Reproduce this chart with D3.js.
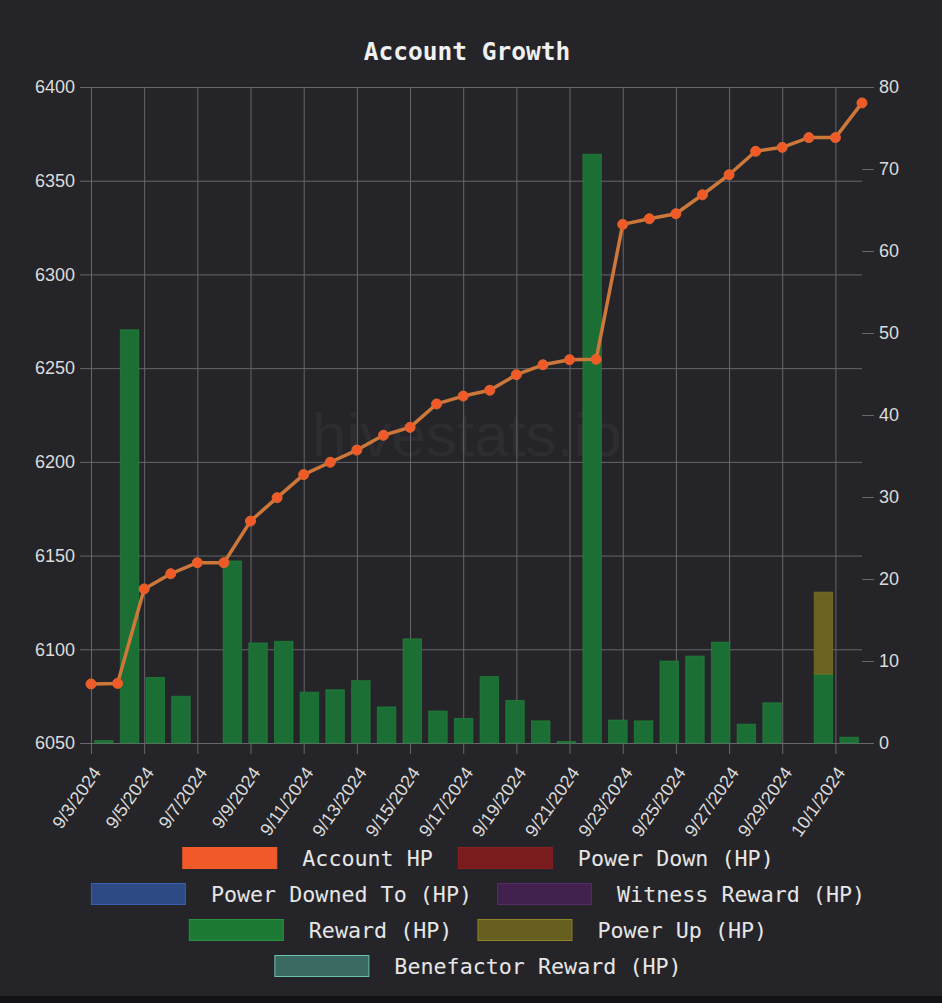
<!DOCTYPE html>
<html>
<head>
<meta charset="utf-8">
<script src="https://cdn.jsdelivr.net/npm/d3@7"></script>
<style>
  html, body { margin: 0; padding: 0; background: #252529; }
  svg { display: block; }
</style>
</head>
<body>
<svg id="chart" width="942" height="1003"></svg>
<script>
// ---------- DATA ----------
const dates = ["9/3/2024","9/4/2024","9/5/2024","9/6/2024","9/7/2024","9/8/2024","9/9/2024","9/10/2024",
  "9/11/2024","9/12/2024","9/13/2024","9/14/2024","9/15/2024","9/16/2024","9/17/2024","9/18/2024",
  "9/19/2024","9/20/2024","9/21/2024","9/22/2024","9/23/2024","9/24/2024","9/25/2024","9/26/2024",
  "9/27/2024","9/28/2024","9/29/2024","9/30/2024","10/1/2024","10/2/2024"];
const accountHP = [6081.5, 6081.8, 6132.2, 6140.3, 6146.2, 6146.2, 6168.4, 6180.9, 6193.2, 6199.8,
  6206.3, 6214.2, 6218.4, 6230.9, 6235.1, 6238.2, 6246.5, 6251.8, 6254.5, 6254.7,
  6326.7, 6329.7, 6332.4, 6342.5, 6353.2, 6365.7, 6367.8, 6373.0, 6373.0, 6391.5];
const powerDown      = new Array(30).fill(0);
const powerDownedTo  = new Array(30).fill(0);
const witnessReward  = new Array(30).fill(0);
const reward = [0.3, 50.4, 8.0, 5.7, 0, 22.2, 12.2, 12.4, 6.2, 6.5, 7.6, 4.4, 12.7, 3.9, 3.0, 8.1,
  5.2, 2.7, 0.2, 71.8, 2.8, 2.7, 10.0, 10.6, 12.3, 2.3, 4.9, 0, 8.4, 0.7];
const powerUp = [0,0,0,0,0,0,0,0,0,0,0,0,0,0,0,0,0,0,0,0,0,0,0,0,0,0,0,0,10.0,0];
const benefactorReward = new Array(30).fill(0);
const leftTicks = [6050, 6100, 6150, 6200, 6250, 6300, 6350, 6400];
const rightTicks = [0, 10, 20, 30, 40, 50, 60, 70, 80];
const xTickLabels = dates.filter((d, i) => i % 2 === 0);

const legendNames = ["Account HP","Power Down (HP)","Power Downed To (HP)","Witness Reward (HP)",
  "Reward (HP)","Power Up (HP)","Benefactor Reward (HP)"];
const legendFill = ["#f25a29","#7a1c1e","#2d4a85","#43214e","#1d7a35","#655e1f","#3a6a61"];
const legendStroke = ["#f25a29","#8a2022","#3a60b5","#582a66","#2a9040","#8f8424","#6cc0b0"];

// ---------- LAYOUT ----------
const svg = d3.select("#chart");
const W = 942, H = 1003;
const pL = 91, pR = 862, pT = 87, pB = 743;

svg.append("rect").attr("width", W).attr("height", H).attr("fill", "#252529");
svg.append("rect").attr("x", 0).attr("y", 996).attr("width", W).attr("height", 7).attr("fill", "#131315");

const xP = d3.scalePoint().domain(dates).range([pL, pR]);
const xB = d3.scaleBand().domain(dates).range([pL, pR]).paddingInner(0.28).paddingOuter(0.14);
const yL = d3.scaleLinear().domain([6050, 6400]).range([pB, pT]);
const yR = d3.scaleLinear().domain([0, 80]).range([pB, pT]);

// watermark
svg.append("text").attr("x", 467).attr("y", 456).attr("text-anchor", "middle")
  .attr("font-family", "Liberation Sans, Arial, sans-serif").attr("font-size", 62)
  .attr("fill", "rgba(255,255,255,0.04)").text("hivestats.io");

const gridColor = "#66666b";
const labelColor = "#dcdcdc";

// horizontal gridlines + left axis
const gLeft = svg.append("g").attr("transform", `translate(${pL},0)`)
  .call(d3.axisLeft(yL).tickValues(leftTicks).tickSize(11).tickPadding(5).tickFormat(d3.format("d")));
gLeft.select(".domain").remove();
gLeft.selectAll(".tick line").attr("stroke", gridColor).attr("x2", pR - pL).attr("x1", -11);
gLeft.selectAll(".tick text").attr("fill", labelColor).attr("font-size", 18)
  .attr("font-family", "Liberation Sans, Arial, sans-serif");

// right axis
const gRight = svg.append("g").attr("transform", `translate(${pR},0)`)
  .call(d3.axisRight(yR).tickValues(rightTicks).tickSize(12).tickPadding(5));
gRight.select(".domain").remove();
gRight.selectAll(".tick line").attr("stroke", gridColor);
gRight.selectAll(".tick text").attr("fill", labelColor).attr("font-size", 18)
  .attr("font-family", "Liberation Sans, Arial, sans-serif");

// vertical gridlines + x axis
const gX = svg.append("g").attr("transform", `translate(0,${pB})`)
  .call(d3.axisBottom(xP).tickValues(xTickLabels).tickSize(11).tickFormat(d => d));
gX.select(".domain").remove();
gX.selectAll(".tick line").attr("stroke", gridColor).attr("y1", pT - pB).attr("y2", 11);
gX.selectAll(".tick text")
  .attr("fill", labelColor).attr("font-size", 18)
  .attr("font-family", "Liberation Sans, Arial, sans-serif")
  .attr("text-anchor", "end")
  .attr("transform", "translate(5,26) rotate(-55)")
  .attr("y", 0).attr("x", 0).attr("dy", "0.35em");

// stacked bars (right axis)
const stackSeries = [
  {vals: powerDown, fill: legendFill[1], stroke: legendStroke[1]},
  {vals: powerDownedTo, fill: legendFill[2], stroke: legendStroke[2]},
  {vals: witnessReward, fill: legendFill[3], stroke: legendStroke[3]},
  {vals: reward, fill: "#1c6f34", stroke: "#238a3e"},
  {vals: powerUp, fill: "#6a6220", stroke: "#867c24"},
  {vals: benefactorReward, fill: legendFill[6], stroke: legendStroke[6]}
];
const base = new Array(dates.length).fill(0);
const gBars = svg.append("g");
stackSeries.forEach(s => {
  dates.forEach((d, i) => {
    const v = s.vals[i];
    if (v > 0) {
      const y0 = yR(base[i]), y1 = yR(base[i] + v);
      gBars.append("rect")
        .attr("x", xB(d)).attr("width", xB.bandwidth())
        .attr("y", y1).attr("height", Math.max(0.8, y0 - y1))
        .attr("fill", s.fill).attr("stroke", s.stroke).attr("stroke-width", 1)
        .attr("stroke-opacity", 0.6);
      base[i] += v;
    }
  });
});

// line
const line = d3.line().x((v, i) => xP(dates[i])).y(v => yL(v));
svg.append("path").datum(accountHP).attr("d", line)
  .attr("fill", "none").attr("stroke", "#cd773a").attr("stroke-width", 3.5)
  .attr("stroke-linejoin", "round");
svg.append("g").selectAll("circle").data(accountHP).join("circle")
  .attr("cx", (v, i) => xP(dates[i])).attr("cy", v => yL(v)).attr("r", 5)
  .attr("fill", "#f05a28").attr("stroke", "#e0652e").attr("stroke-width", 1);

// title
svg.append("text").attr("x", 467).attr("y", 60).attr("text-anchor", "middle")
  .attr("font-family", "DejaVu Sans Mono, monospace").attr("font-weight", "bold")
  .attr("font-size", 24.5).attr("fill", "#f0f0f0").text("Account Growth");

// legend
const boxW = 95, boxH = 22, gap = 25, maxRow = 880, legendCenter = 478, rowY0 = 858, rowStep = 36;
const gLeg = svg.append("g");
const measure = gLeg.append("text").attr("font-family", "DejaVu Sans Mono, monospace").attr("font-size", 21.7);
const items = legendNames.map((n, i) => {
  measure.text(n);
  return {name: n, i, tw: measure.node().getComputedTextLength()};
});
measure.remove();
const rows = [];
let cur = [], curW = 0;
items.forEach(it => {
  const w = boxW + gap + it.tw;
  const add = cur.length ? gap + w : w;
  if (cur.length && curW + add > maxRow) { rows.push({items: cur, w: curW}); cur = [it]; curW = w; }
  else { cur.push(it); curW += add; }
});
rows.push({items: cur, w: curW});
rows.forEach((r, ri) => {
  let x = legendCenter - r.w / 2;
  const cy = rowY0 + ri * rowStep;
  r.items.forEach(it => {
    gLeg.append("rect").attr("x", x + 0.5).attr("y", cy - boxH / 2 + 0.5).attr("width", boxW - 1).attr("height", boxH - 1)
      .attr("fill", legendFill[it.i]).attr("stroke", legendStroke[it.i]).attr("stroke-width", 1);
    gLeg.append("text").attr("x", x + boxW + gap).attr("y", cy + 7.5)
      .attr("font-family", "DejaVu Sans Mono, monospace").attr("font-size", 21.7)
      .attr("fill", "#e6e6e6").text(it.name);
    x += boxW + gap + it.tw + gap;
  });
});
</script>
</body>
</html>
